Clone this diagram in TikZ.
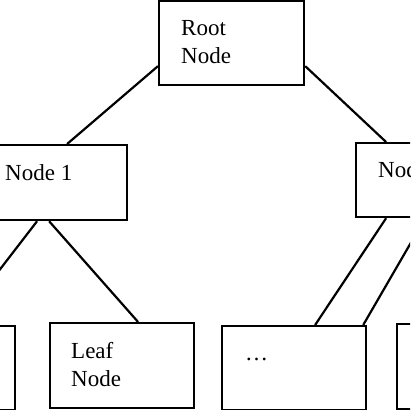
\documentclass[tikz,border=0pt]{standalone}
\usepackage{fontspec}
\setmainfont{Liberation Serif}

\begin{document}
\begin{tikzpicture}[x=1pt,y=-1pt,
    box/.style={draw, line width=2.2pt, anchor=north west, inner sep=0pt,
      minimum width=144pt, minimum height=84pt},
    txt/.style={anchor=base west, inner sep=0pt, align=left,
      font=\fontsize{23}{28}\selectfont},
    edge/.style={line width=2.2pt}]
  \useasboundingbox (0,0) rectangle (410,410);
  \clip (0,0) rectangle (410,410);
  % boxes
  \node[box, minimum width=145pt] (root) at (158,0) {};
  \node[box, minimum height=75pt] (n1) at (-18,144) {};
  \node[box, minimum height=74pt] (n2) at (355,142) {};
  \node[box] (leafa) at (-130,325) {};
  \node[box, minimum height=85pt] (leafb) at (49,322) {};
  \node[box] (dots) at (221,325) {};
  \node[box, minimum height=85pt] (leafc) at (396,323) {};
  % texts (base of a two-line node is its last line)
  \node[txt] (rootlbl) at ([shift={(23pt,-63pt)}]root.north west) {Root\\Node};
  \node[txt] (n1lbl) at ([shift={(23pt,-36pt)}]n1.north west) {Node 1};
  \node[txt] (n2lbl) at ([shift={(23pt,-35pt)}]n2.north west) {Node 2};
  \node[txt] (leafblbl) at ([shift={(22pt,-64pt)}]leafb.north west) {Leaf\\Node};
  \node[txt] (dotslbl) at ([shift={(24pt,-35pt)}]dots.north west) {…};
  % edges
  \draw[edge] ([yshift=-23pt]root.west) -- ([xshift=12pt]n1.north);
  \draw[edge] ([yshift=-23pt]root.east) -- ([xshift=-42pt]n2.north);
  \draw[edge] ([xshift=-18pt]n1.south) -- ([xshift=14pt]leafa.north);
  \draw[edge] ([xshift=-6pt]n1.south) -- ([xshift=16pt]leafb.north);
  \draw[edge] ([xshift=-42pt]n2.south) -- ([xshift=21pt]dots.north);
  \draw[edge] ([xshift=-3pt]n2.south) -- ([xshift=-4pt]dots.north east);
\end{tikzpicture}
\end{document}
